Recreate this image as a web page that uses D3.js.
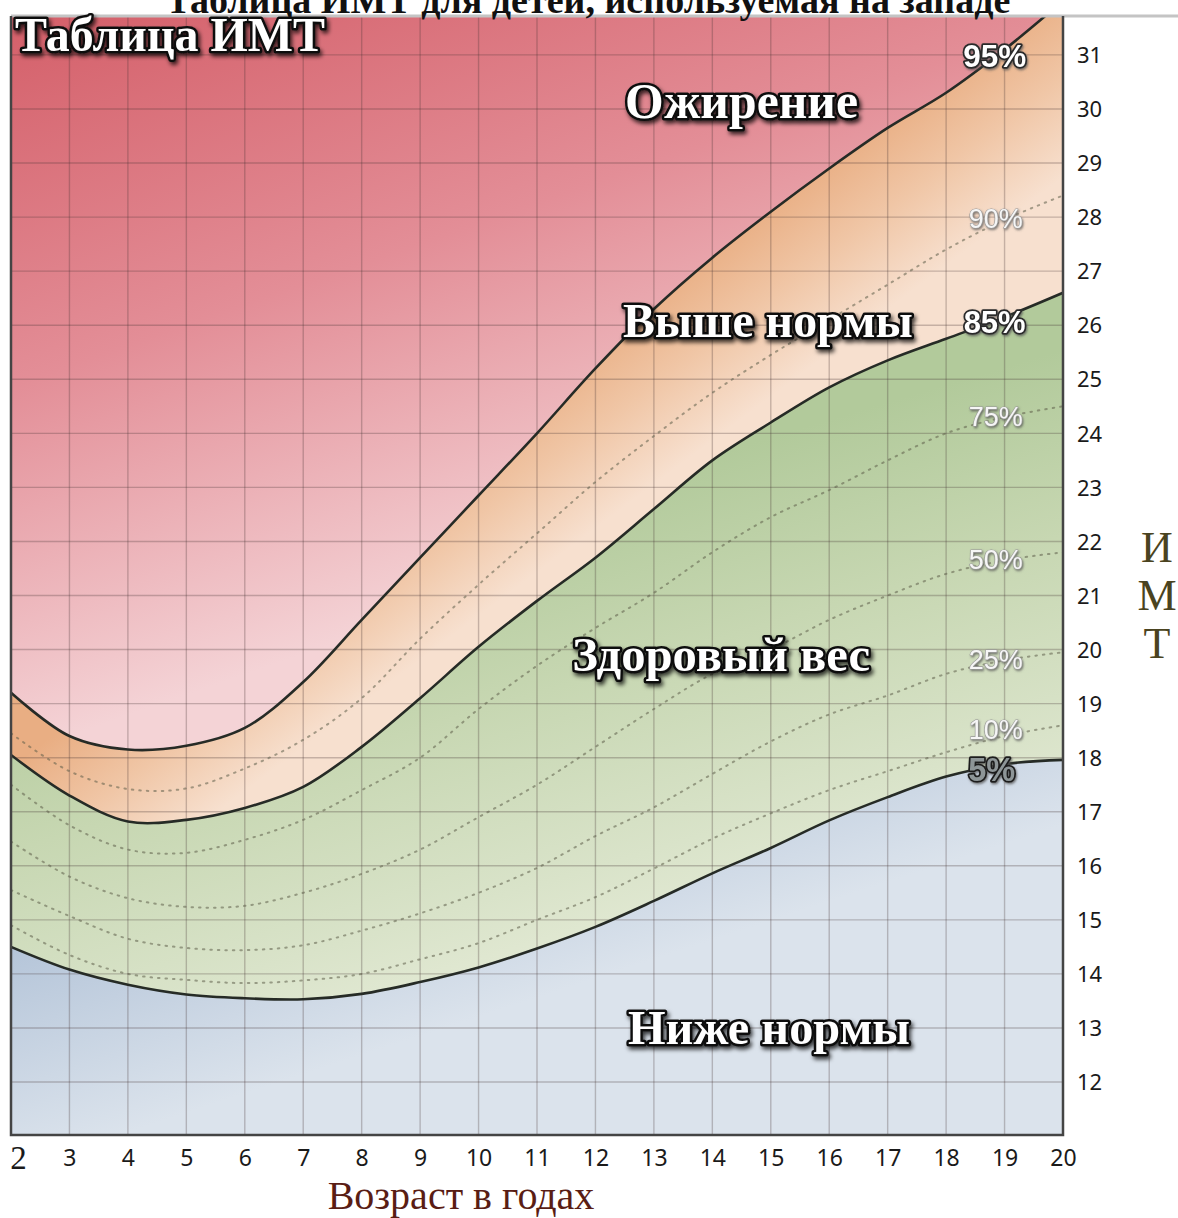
<!DOCTYPE html>
<html><head><meta charset="utf-8">
<script src="https://cdn.jsdelivr.net/npm/d3@7"></script>
<style>body{margin:0;background:#fff;} svg{display:block}</style>
</head><body>
<svg id="chart" width="1178" height="1218"></svg>
<script>
// ---------- data ----------
const ages = [2,3,4,5,6,7,8,9,10,11,12,13,14,15,16,17,18,19,20];
const p95 = [19.2,18.4,18.15,18.22,18.55,19.4,20.55,21.7,22.85,24.0,25.2,26.3,27.25,28.1,28.9,29.65,30.3,31.1,32.0];
const p90 = [18.45,17.75,17.42,17.43,17.8,18.33,19.1,20.2,21.2,22.15,23.1,23.95,24.75,25.45,26.1,26.75,27.4,27.95,28.4];
const p85 = [18.05,17.3,16.82,16.85,17.07,17.46,18.2,19.1,20.05,20.9,21.7,22.6,23.5,24.2,24.85,25.35,25.75,26.15,26.6];
const p75 = [17.5,16.75,16.3,16.24,16.48,16.85,17.4,18.0,18.9,19.7,20.4,21.05,21.8,22.45,22.95,23.5,24.0,24.3,24.5];
const p50 = [16.45,15.8,15.4,15.24,15.26,15.5,15.85,16.3,16.9,17.5,18.2,18.9,19.55,20.0,20.55,21.0,21.4,21.65,21.8];
const p25 = [15.55,15.07,14.65,14.48,14.44,14.53,14.8,15.12,15.5,15.96,16.55,17.08,17.7,18.3,18.8,19.15,19.55,19.8,19.95];
const p10 = [14.9,14.35,14.0,13.89,13.83,13.88,14.0,14.27,14.57,15.0,15.42,15.95,16.5,16.97,17.4,17.75,18.1,18.4,18.6];
const p5  = [14.5,14.08,13.8,13.62,13.55,13.53,13.63,13.85,14.12,14.47,14.87,15.35,15.86,16.33,16.84,17.27,17.65,17.88,17.96];
const xTicks = [2,3,4,5,6,7,8,9,10,11,12,13,14,15,16,17,18,19,20];
const yTicks = [12,13,14,15,16,17,18,19,20,21,22,23,24,25,26,27,28,29,30,31];
const solidNames = ["95%","85%","5%"];
const dottedNames = ["90%","75%","50%","25%","10%"];
const zoneNames = ["Ожирение","Выше нормы","Здоровый вес","Ниже нормы"];
const titleText = "Таблица ИМТ для детей, используемая на западе";
const cornerText = "Таблица ИМТ";
const xTitle = "Возраст в годах";
const yTitle = ["И","М","Т"];

// ---------- layout ----------
const L = 11, R = 1063, T = 16, B = 1135;
const x = d3.scaleLinear().domain([2,20]).range([L,R]);
const y = d3.scaleLinear().domain([11.02,31.72]).range([B,T]);
const yTop = y.domain()[1], yBot = y.domain()[0];

const svg = d3.select("#chart");
const defs = svg.append("defs");

function linGrad(id, x1,y1,x2,y2, stops){
  const g = defs.append("linearGradient").attr("id",id).attr("gradientUnits","userSpaceOnUse")
    .attr("x1",x1).attr("y1",y1).attr("x2",x2).attr("y2",y2);
  stops.forEach(s=>g.append("stop").attr("offset",s[0]).attr("stop-color",s[1]));
}
linGrad("gObese",0,20,230,680,[[0,"#d45f69"],[0.5,"#e38e97"],[1,"#f4d3d6"]]);
linGrad("gOver",372,496,468,624,[[0,"#e9ae83"],[0.5,"#f0c6a6"],[1,"#f7e0cf"]]);
linGrad("gHealth",184,613,319,1063,[[0,"#b2ca9b"],[0.38,"#c7d7b2"],[0.77,"#d9e3c9"],[1,"#e5ebd7"]]);
linGrad("gUnder",0,770,120,1135,[[0,"#a2b8d1"],[0.45,"#b5c5d9"],[1,"#dbe3ec"]]);

defs.append("clipPath").attr("id","plotClip").append("rect")
  .attr("x",L).attr("y",T).attr("width",R-L).attr("height",B-T);

const sh = defs.append("filter").attr("id","shadow").attr("x","-20%").attr("y","-30%").attr("width","140%").attr("height","170%");
sh.append("feDropShadow").attr("dx",2).attr("dy",3).attr("stdDeviation",2.2).attr("flood-color","#000").attr("flood-opacity",0.75);
const sh2 = defs.append("filter").attr("id","shadowLight").attr("x","-20%").attr("y","-30%").attr("width","140%").attr("height","170%");
sh2.append("feDropShadow").attr("dx",1).attr("dy",1.5).attr("stdDeviation",1).attr("flood-color","#555").attr("flood-opacity",0.8);

const rows = ages.map((a,i)=>({age:a,p95:p95[i],p90:p90[i],p85:p85[i],p75:p75[i],p50:p50[i],p25:p25[i],p10:p10[i],p5:p5[i]}));
const curve = d3.curveCatmullRom.alpha(0.5);

const plot = svg.append("g").attr("clip-path","url(#plotClip)");
function band(fill, lo, hi){
  plot.append("path").datum(rows).attr("fill",fill)
    .attr("d", d3.area().curve(curve).x(d=>x(d.age))
      .y0(d=> lo===null ? y(yBot-1) : y(d[lo]))
      .y1(d=> hi===null ? y(yTop+1) : y(d[hi])));
}
band("url(#gObese)","p95",null);
band("url(#gOver)","p85","p95");
band("url(#gHealth)","p5","p85");
band("url(#gUnder)",null,"p5");

// grid
plot.append("g").selectAll("line").data(xTicks.slice(1,-1)).join("line")
  .attr("x1",d=>x(d)).attr("x2",d=>x(d)).attr("y1",T).attr("y2",B)
  .attr("stroke","rgba(70,50,50,0.28)").attr("stroke-width",1.4);
plot.append("g").selectAll("line").data(yTicks).join("line")
  .attr("y1",d=>y(d)).attr("y2",d=>y(d)).attr("x1",L).attr("x2",R)
  .attr("stroke","rgba(70,50,50,0.28)").attr("stroke-width",1.4);

// dotted percentile lines
["p90","p75","p50","p25","p10"].forEach(k=>{
  plot.append("path").datum(rows).attr("fill","none")
    .attr("stroke","rgba(95,95,75,0.55)").attr("stroke-width",2)
    .attr("stroke-dasharray","1.5 6").attr("stroke-linecap","round")
    .attr("d", d3.line().curve(curve).x(d=>x(d.age)).y(d=>y(d[k])));
});
// solid percentile lines
["p95","p85","p5"].forEach(k=>{
  plot.append("path").datum(rows).attr("fill","none")
    .attr("stroke","#262b26").attr("stroke-width",2.6)
    .attr("d", d3.line().curve(curve).x(d=>x(d.age)).y(d=>y(d[k])));
});

// frame
svg.append("line").attr("x1",L).attr("x2",1178).attr("y1",T).attr("y2",T).attr("stroke","#c4c4c4").attr("stroke-width",3);
svg.append("path").attr("d",`M${L},${T}V${B}H${R}V${T}`).attr("fill","none").attr("stroke","#444").attr("stroke-width",2.5);

// helper to fit width
function fit(sel, w){
  const n = sel.node(); const len = n.getComputedTextLength();
  const fs = parseFloat(sel.attr("font-size"));
  sel.attr("font-size", (fs*w/len).toFixed(2));
  return sel;
}

// axes
const xAxis = svg.append("g").attr("transform",`translate(0,${B})`)
  .call(d3.axisBottom(x).tickValues(xTicks).tickFormat(d3.format("d")).tickSize(0));
xAxis.select(".domain").remove();
xAxis.selectAll("text").attr("y",31).attr("dy",null)
  .attr("font-family","'Noto Sans', sans-serif").attr("font-size",23).attr("fill","#1a1a1a");
xAxis.selectAll(".tick").filter(d=>d===2).select("text")
  .attr("font-family","'Liberation Serif', serif").attr("font-size",33).attr("x",7).attr("y",34);

const yAxis = svg.append("g").attr("transform",`translate(${R},0)`)
  .call(d3.axisRight(y).tickValues(yTicks).tickFormat(d3.format("d")).tickSize(0));
yAxis.select(".domain").remove();
yAxis.selectAll("text").attr("x",14).attr("dy","0.35em").attr("text-anchor","start")
  .attr("font-family","'Noto Sans', sans-serif").attr("font-size",22).attr("fill","#1a1a1a");

// axis titles
svg.append("text").attr("x",461).attr("y",1209).attr("text-anchor","middle")
  .attr("font-family","'Liberation Serif', serif").attr("font-size",40).attr("fill","#5a1d14").text(xTitle);
svg.append("g").selectAll("text").data(yTitle).join("text")
  .attr("x",1157).attr("y",(d,i)=>562+i*48).attr("text-anchor","middle")
  .attr("font-family","'Liberation Serif', serif").attr("font-size",44).attr("fill","#4a4320").text(d=>d);

// top title (cut by the page top, as in the original)
fit(svg.append("text").attr("x",588).attr("y",13).attr("text-anchor","middle")
  .attr("font-family","'Liberation Serif', serif").attr("font-weight","bold").attr("font-size",36)
  .attr("fill","#111").text(titleText),845);

// outlined labels
function outlined(txt, cx, cy, w, opt){
  const t = svg.append("text").attr("x",cx).attr("y",cy).attr("text-anchor",opt.anchor||"middle")
    .attr("font-family",opt.family).attr("font-weight",opt.weight||"bold").attr("font-size",40)
    .attr("fill",opt.fill).attr("stroke",opt.stroke).attr("stroke-width",opt.sw)
    .attr("stroke-linejoin","round").attr("paint-order","stroke").attr("filter",`url(#${opt.filter})`)
    .text(txt);
  fit(t,w);
  return t;
}
const serifBold = {family:"'Liberation Serif', serif", fill:"#fff", stroke:"#111", sw:5, filter:"shadow"};
outlined(cornerText, 15, 51, 310, Object.assign({anchor:"start"},serifBold));
outlined(zoneNames[0], x(14.5), y(29.83), 233, serifBold);
outlined(zoneNames[1], x(14.95), y(25.78), 290, serifBold);
outlined(zoneNames[2], x(14.15), y(19.6), 298, serifBold);
outlined(zoneNames[3], x(14.97), y(12.7), 282, serifBold);

const sansBold = {family:"'Liberation Sans', sans-serif", fill:"#fff", stroke:"#2a2a2a", sw:3.5, filter:"shadowLight"};
outlined(solidNames[0], x(18.83), y(30.77), 63, sansBold);
outlined(solidNames[1], x(18.83), y(25.86), 62, sansBold);
outlined(solidNames[2], x(18.78), y(17.57), 47, Object.assign({},sansBold,{fill:"#8d9597",stroke:"#1e1e1e"}));

const light = {family:"'Liberation Sans', sans-serif", weight:"normal", fill:"#f6f6f6", stroke:"#9a9a9a", sw:1.2, filter:"shadowLight"};
const dotY = [27.8, 24.14, 21.49, 19.64, 18.34];
dottedNames.forEach((n,i)=> outlined(n, x(18.85), y(dotY[i]), 54, light));
</script>
</body></html>
